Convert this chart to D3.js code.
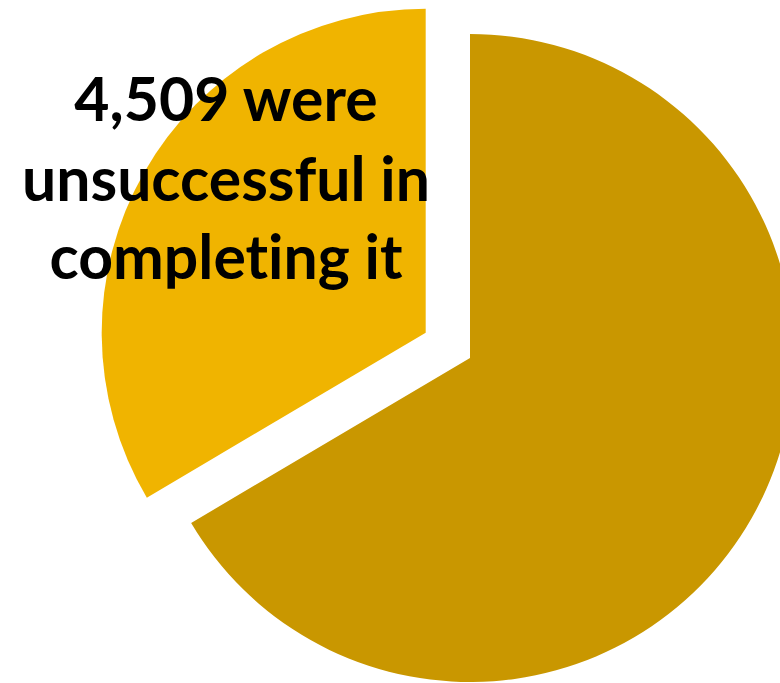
<!DOCTYPE html>
<meta charset="utf-8">
<script src="https://d3js.org/d3.v7.min.js"></script>
<style>
	body{
		margin:0;
		background:#fff;
		font-family: 'Lato', sans-serif;
	}
	svg{
		display:block;
	}
	text{
		font-variant-ligatures: none;
		font-feature-settings: "liga" 0;
	}
</style>
<div id="chart"></div>
<script>

// outcome categories, clockwise from 12 o'clock
var categories = ["completed it", "unsuccessful in completing it"]
var values = [8950, 4509]
var sliceColors = ["#C99700", "#F0B400"]
var exploded = [false, true]
var labelLines = ["4,509 were", "unsuccessful in", "completing it"]

var w = 780
var h = 683
var cx = 470
var cy = 358
var radius = 324
var explodeDist = 51

var svg = d3.select("#chart").append("svg")
	.attr("width", w)
	.attr("height", h)

var pie = d3.pie().sort(null).value(function(d){return d})
var arcs = pie(values)
var arc = d3.arc().innerRadius(0).outerRadius(radius)

var g = svg.append("g").attr("transform", "translate(" + cx + "," + cy + ")")

g.selectAll(".slice")
	.data(arcs)
	.join("path")
	.attr("class", "slice")
	.attr("d", arc)
	.attr("fill", function(d, i){return sliceColors[i]})
	.attr("transform", function(d, i){
		if(!exploded[i]) return null
		var mid = (d.startAngle + d.endAngle) / 2
		var dx = Math.sin(mid) * explodeDist
		var dy = -Math.cos(mid) * explodeDist
		return "translate(" + dx + "," + dy + ")"
	})

// label for the small slice
var label = svg.append("text")
	.attr("x", 226)
	.attr("text-anchor", "middle")
	.style("font-weight", 700)
	.style("font-size", "60px")
	.attr("fill", "#000")

var baselines = [121, 201, 279]
label.selectAll("tspan")
	.data(labelLines)
	.join("tspan")
	.attr("x", 226)
	.attr("y", function(d, i){return baselines[i]})
	.text(function(d){return d})

// fit the widest line to the width in the picture
var widest = label.selectAll("tspan").nodes()[1].getComputedTextLength()
var fs = 60 * 408 / widest
label.style("font-size", fs + "px")

</script>
